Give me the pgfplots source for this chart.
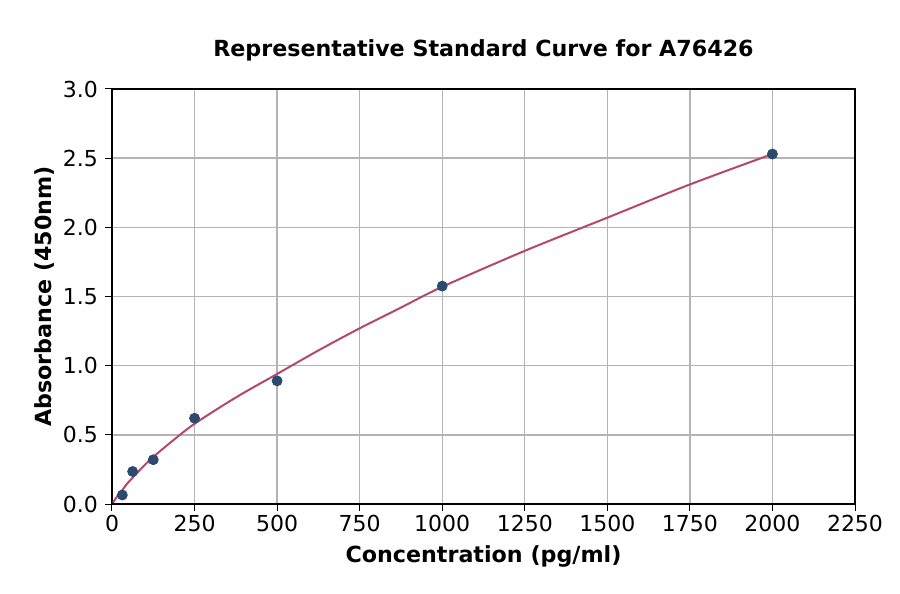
\documentclass[border=0pt]{standalone}
\usepackage{pgfplots}
\pgfplotsset{compat=1.18}
\usepackage{fontspec}
\setmainfont{DejaVu Sans}

\definecolor{curvecol}{RGB}{181,71,110}
\definecolor{ptcol}{RGB}{44,74,110}
\definecolor{gridcol}{RGB}{180,180,180}

\begin{document}
\begin{tikzpicture}
\path[use as bounding box] (-56bp,-45bp) rectangle (394bp,252bp);
\begin{axis}[
  at={(0,0)}, anchor=south west,
  scale only axis,
  width=371.5bp, height=207.5bp,
  xmin=0, xmax=2250, ymin=0, ymax=3.0,
  xtick={0,250,...,2250},
  ytick={0,0.5,...,3.0},
  yticklabel style={/pgf/number format/.cd,fixed,fixed zerofill,precision=1},
  xticklabel style={/pgf/number format/1000 sep={}, yshift=1.2bp},
  /pgf/number format/assume math mode=true,
  ticklabel style={font=\fontsize{11bp}{13bp}\selectfont},
  tick align=outside,
  major tick length=3.5bp,
  tick style={black, line width=0.5bp},
  xtick pos=bottom, ytick pos=left,
  grid=major,
  major grid style={gridcol, line width=0.7bp},
  axis line style={black, line width=0.6bp},
  title={\textbf{Representative Standard Curve for A76426}},
  title style={font=\fontsize{11.1bp}{13bp}\selectfont, at={(0.5,1)}, anchor=south, yshift=4.5bp},
  xlabel={\textbf{Concentration (pg/ml)}},
  ylabel={\textbf{Absorbance (450nm)}},
  label style={font=\fontsize{11.1bp}{13bp}\selectfont},
  xlabel style={at={(axis description cs:0.5,-0.1253)}, anchor=center},
  ylabel style={at={(axis description cs:-0.0902,0.5)}, anchor=center},
  clip=false,
]
\addplot[curvecol, line width=1bp, smooth, no marks] coordinates {
  (3,0.01) (10,0.035) (20,0.07) (31.25,0.10) (45,0.145) (62.5,0.19)
  (90,0.26) (125,0.34) (180,0.45) (250,0.58) (375,0.77) (500,0.94)
  (625,1.11) (750,1.27) (875,1.42) (1000,1.57) (1250,1.83) (1500,2.07)
  (1750,2.31) (2000,2.53)
};
\addplot[only marks, mark=*, mark size=2.5bp, color=ptcol] coordinates {
  (31.25,0.065) (62.5,0.235) (125,0.32) (250,0.62) (500,0.89) (1000,1.575) (2000,2.53)
};
\end{axis}
\end{tikzpicture}
\end{document}
